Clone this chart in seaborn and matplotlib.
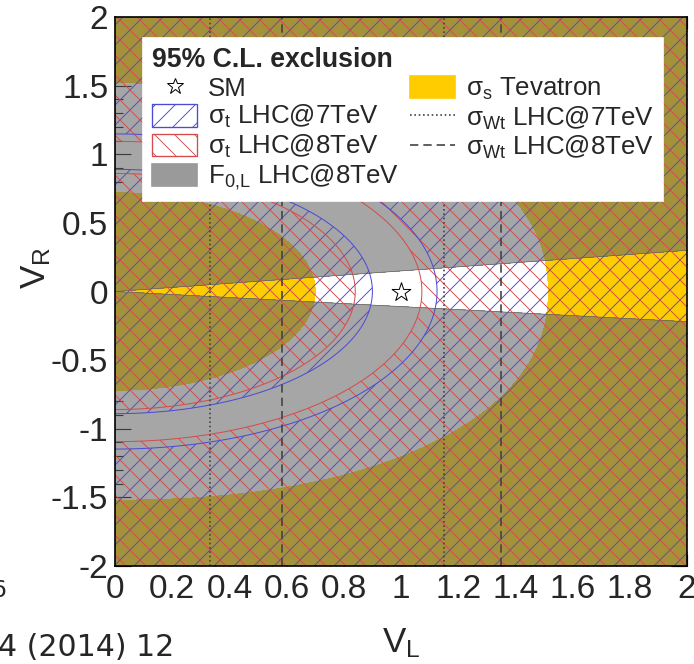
import numpy as np
import pandas as pd
import matplotlib
matplotlib.use("Agg")
import matplotlib.pyplot as plt
import seaborn as sns
from matplotlib.patches import Patch
from matplotlib.lines import Line2D
from matplotlib.ticker import MultipleLocator

# ---------------- data ----------------
vl_range = [0.0, 2.0]
vr_range = [-2.0, 2.0]
sm_vl = [1.0]
sm_vr = [0.0]

# sigma_s (Tevatron): allowed band between inner/outer boundaries (semi-axes V_L, V_R)
sigma_s_inner = [0.70, 0.72]
sigma_s_outer = [1.515, 1.52]
sigma_s_exponent = [2.0, 2.2]

# sigma_t LHC: allowed rings (semi-axes V_L, V_R)
sigma_t7_inner = [0.90, 0.89]
sigma_t7_outer = [1.126, 1.148]
sigma_t8_inner = [0.84, 0.86]
sigma_t8_outer = [1.073, 1.094]

# F0,L: allowed wedge V_R / V_L between these slopes
f0_upper_slope = 0.15
f0_lower_slope = -0.11

# sigma_Wt: allowed V_L interval limits
wt7_limits = [0.333, 1.15]
wt8_limits = [0.584, 1.349]

x_ticks = [0, 0.2, 0.4, 0.6, 0.8, 1, 1.2, 1.4, 1.6, 1.8, 2]
x_tick_labels = ["0", "0.2", "0.4", "0.6", "0.8", "1", "1.2", "1.4", "1.6", "1.8", "2"]
y_ticks = [-2, -1.5, -1, -0.5, 0, 0.5, 1, 1.5, 2]
y_tick_labels = ["-2", "-1.5", "-1", "-0.5", "0", "0.5", "1", "1.5", "2"]

legend_title = "95% C.L. exclusion"
legend_labels = ["SM",
                 "σ$_{\\mathrm{t}}$ LHC@7TeV",
                 "σ$_{\\mathrm{t}}$ LHC@8TeV",
                 "F$_{\\mathrm{0{,}L}}$ LHC@8TeV",
                 "σ$_{\\mathrm{s}}$ Tevatron",
                 "σ$_{\\mathrm{Wt}}$ LHC@7TeV",
                 "σ$_{\\mathrm{Wt}}$ LHC@8TeV"]

# ---------------- style ----------------
YELLOW = "#ffcc00"
GRAY = "#676767"
GRAY_ALPHA = 0.58
BLUE = "#4b4bd6"
RED = "#d44c4c"
LINE_GRAY = "#444444"
DPI = 120

sns.set_theme(style="ticks")
plt.rcParams["font.family"] = ["Liberation Sans", "DejaVu Sans"]
plt.rcParams["mathtext.fontset"] = "custom"
plt.rcParams["mathtext.rm"] = "Liberation Sans"
plt.rcParams["mathtext.it"] = "Liberation Sans:italic"
plt.rcParams["mathtext.bf"] = "Liberation Sans:bold"
plt.rcParams["hatch.linewidth"] = 0.55
plt.rcParams["axes.unicode_minus"] = False

fig = plt.figure(figsize=(694 / DPI, 664 / DPI), dpi=DPI)
ax = fig.add_axes([115 / 694, 1 - 566 / 664, 572 / 694, 549 / 664])
ax.set_facecolor("white")

vl = np.linspace(vl_range[0], vl_range[1], 801)
vr = np.linspace(vr_range[0], vr_range[1], 1601)
VL, VR = np.meshgrid(vl, vr)


def shape(semi, p=2.0):
    return (np.abs(VL) / semi[0]) ** p + (np.abs(VR) / semi[1]) ** p


# sigma_s excluded (yellow)
ax.contourf(VL, VR, shape(sigma_s_inner, sigma_s_exponent[0]), levels=[-1, 1],
            colors=[YELLOW], zorder=1)
ax.contourf(VL, VR, shape(sigma_s_outer, sigma_s_exponent[1]), levels=[1, 1e4],
            colors=[YELLOW], zorder=1)

# F0 excluded (gray, translucent)
up = VR - f0_upper_slope * VL
lo = VR - f0_lower_slope * VL
ax.contourf(VL, VR, up, levels=[0, 100], colors=[GRAY], alpha=GRAY_ALPHA, zorder=2)
ax.contourf(VL, VR, lo, levels=[-100, 0], colors=[GRAY], alpha=GRAY_ALPHA, zorder=2)
ax.contour(VL, VR, up, levels=[0], colors=["#606060"], linewidths=0.4, zorder=2.1)
ax.contour(VL, VR, lo, levels=[0], colors=["#606060"], linewidths=0.4, zorder=2.1)


def hatch_excluded(inner, outer, hatch, color):
    for field, levels in ((shape(inner), [-1, 1]), (shape(outer), [1, 1e4])):
        with plt.rc_context({"hatch.color": color}):
            cs = ax.contourf(VL, VR, field, levels=levels, colors="none",
                             hatches=[hatch], zorder=3)
        cs.set_edgecolor(color)
        cs.set_linewidth(0)
        ax.contour(VL, VR, field, levels=[1], colors=[color], linewidths=0.6,
                   zorder=3.5)


hatch_excluded(sigma_t7_inner, sigma_t7_outer, "//", BLUE)
hatch_excluded(sigma_t8_inner, sigma_t8_outer, "\\\\", RED)

# sigma_Wt limits (vertical lines)
wt_df = pd.DataFrame({
    "VL": np.repeat(wt7_limits + wt8_limits, 2),
    "VR": np.tile(vr_range, 4),
    "line": np.repeat(np.arange(4), 2),
    "dataset": np.repeat(["7TeV", "7TeV", "8TeV", "8TeV"], 2),
})
sns.lineplot(data=wt_df, x="VL", y="VR", units="line", style="dataset",
             estimator=None, sort=False,
             dashes={"7TeV": (1, 1.6), "8TeV": (5, 3)},
             color=LINE_GRAY, lw=1.0, legend=False, ax=ax, zorder=4)

# SM point
sns.scatterplot(x=sm_vl, y=sm_vr, marker="*", s=140, color="white",
                edgecolor="black", linewidth=0.6, ax=ax, zorder=5, legend=False)

# axes
ax.set_xlim(vl_range)
ax.set_ylim(vr_range)
ax.set_xticks(x_ticks, x_tick_labels)
ax.set_yticks(y_ticks, y_tick_labels)
ax.xaxis.set_minor_locator(MultipleLocator(0.05))
ax.yaxis.set_minor_locator(MultipleLocator(0.1))
ax.tick_params(which="both", direction="in", top=True, right=True,
               width=0.7, color="black")
ax.tick_params(axis="x", which="major", length=7.2, labelsize=20, pad=5)
ax.tick_params(axis="x", which="minor", length=4.0)
ax.tick_params(axis="y", which="major", length=9.6, labelsize=20, pad=4)
ax.tick_params(axis="y", which="minor", length=4.8)
ax.set_xlabel("")
ax.set_ylabel("")
for sp in ax.spines.values():
    sp.set_visible(True)
    sp.set_linewidth(1.0)
    sp.set_color("black")
    sp.set_zorder(20)

fig.text(401 / 694, 1 - 652 / 664, "V$_{\\mathrm{L}}$", ha="center",
         va="baseline", fontsize=21)
fig.text(36 / 694, 1 - 268 / 664, "V$_{\\mathrm{R}}$", ha="center",
         va="center", rotation=90, fontsize=21)

# legend
handles = [
    Line2D([], [], marker="*", ls="none", mfc="white", mec="black", ms=10, mew=0.6),
    Patch(facecolor="white", edgecolor=BLUE, hatch="//", lw=0.8),
    Patch(facecolor="white", edgecolor=RED, hatch="\\\\", lw=0.8),
    Patch(facecolor="#9a9a9a", edgecolor="#9a9a9a"),
    Patch(facecolor=YELLOW, edgecolor=YELLOW),
    Line2D([], [], color=LINE_GRAY, ls=(0, (1, 1.6)), lw=1.0),
    Line2D([], [], color=LINE_GRAY, ls=(0, (5, 3)), lw=1.0),
]
leg = ax.legend(handles, legend_labels, loc="upper left",
                bbox_to_anchor=(0.049, 0.9617), ncol=2, title=legend_title,
                title_fontproperties={"weight": "bold", "size": 16},
                alignment="left", fontsize=15.5, frameon=True, fancybox=False,
                framealpha=1, edgecolor="white", facecolor="white",
                handlelength=1.75, handleheight=0.95, handletextpad=0.4,
                columnspacing=0.45, labelspacing=0.1, borderpad=0.35,
                borderaxespad=0)
leg.set_zorder(10)

# clipped fragments of neighbouring text
fig.text(-2 / 694, 1 - 656 / 664, "4 (2014) 12", family="DejaVu Sans",
         fontsize=18, ha="left", va="baseline")
fig.text(6 / 694, 1 - 597 / 664, "6", family="DejaVu Sans",
         fontsize=14, ha="right", va="baseline")

fig.savefig("out.png", dpi=DPI)
